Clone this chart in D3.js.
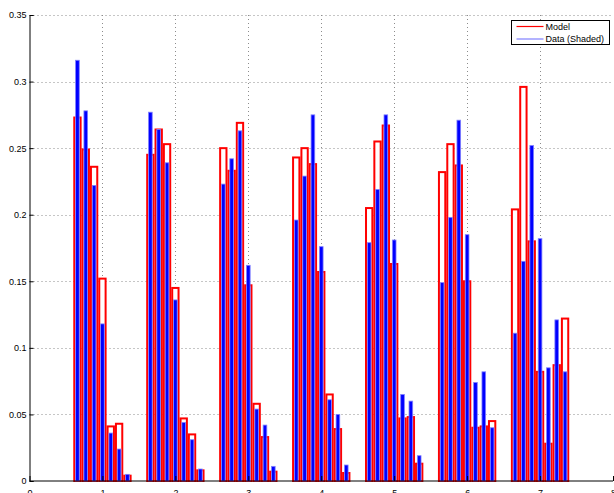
<!DOCTYPE html>
<html>
<head>
<meta charset="utf-8">
<script src="https://cdn.jsdelivr.net/npm/d3@7"></script>
<style>
  body { margin: 0; background: #fff; }
  svg { display: block; font-family: "Liberation Sans", Arial, sans-serif; }
</style>
</head>
<body>
<div id="svg-container"></div>
<script>
const width = 614;
const height = 493;

// group positions on the x axis
const groups = [1, 2, 3, 4, 5, 6, 7];

// model values (red outlined bars), 7 bars per group
const model1 = [0.273, 0.249, 0.236, 0.152, 0.041, 0.043, 0.004];
const model2 = [0.245, 0.264, 0.253, 0.145, 0.047, 0.035, 0.008];
const model3 = [0.250, 0.233, 0.269, 0.147, 0.058, 0.033, 0.007];
const model4 = [0.243, 0.250, 0.238, 0.157, 0.065, 0.039, 0.006];
const model5 = [0.205, 0.255, 0.267, 0.163, 0.047, 0.048, 0.013];
const model6 = [0.232, 0.253, 0.237, 0.150, 0.040, 0.041, 0.045];
const model7 = [0.204, 0.296, 0.180, 0.082, 0.028, 0.087, 0.122];

// data values (blue shaded bars)
const data1 = [0.316, 0.278, 0.222, 0.118, 0.036, 0.024, 0.005];
const data2 = [0.277, 0.264, 0.239, 0.136, 0.044, 0.031, 0.009];
const data3 = [0.223, 0.242, 0.263, 0.162, 0.054, 0.042, 0.011];
const data4 = [0.196, 0.229, 0.275, 0.176, 0.061, 0.050, 0.012];
const data5 = [0.179, 0.219, 0.275, 0.181, 0.065, 0.060, 0.019];
const data6 = [0.149, 0.198, 0.271, 0.185, 0.074, 0.082, 0.040];
const data7 = [0.111, 0.165, 0.252, 0.182, 0.085, 0.121, 0.082];

const modelSeries = [model1, model2, model3, model4, model5, model6, model7];
const dataSeries = [data1, data2, data3, data4, data5, data6, data7];

const xTicks = [0, 1, 2, 3, 4, 5, 6, 7, 8];
const yTicks = [0, 0.05, 0.1, 0.15, 0.2, 0.25, 0.3, 0.35];
const legendLabels = ["Model", "Data (Shaded)"];

const xScale = d3.scaleLinear().domain([0, 8]).range([29.5, 613]);
const yScale = d3.scaleLinear().domain([0, 0.35]).range([481, 15]);

// 7 bars share 0.8 of a unit in each group
const slot = 0.8 / 7;
const slotPx = xScale(slot) - xScale(0);

function flatten(series) {
  const out = [];
  series.forEach((vals, g) => {
    vals.forEach((v, i) => {
      out.push({ x: groups[g] + (i - 3) * slot, v: v });
    });
  });
  return out;
}

const svg = d3
  .select("#svg-container")
  .append("svg")
  .attr("width", width)
  .attr("height", height);

// dotted grid
svg
  .append("g")
  .selectAll("line")
  .data(yTicks.filter((d) => d > 0))
  .enter()
  .append("line")
  .attr("x1", xScale(0))
  .attr("x2", 612)
  .attr("y1", (d) => Math.round(yScale(d)) + 0.5)
  .attr("y2", (d) => Math.round(yScale(d)) + 0.5)
  .attr("stroke", "#8c8c8c")
  .attr("stroke-width", 1)
  .attr("stroke-dasharray", "1,3");

svg
  .append("g")
  .selectAll("line")
  .data(xTicks.filter((d) => d > 0 && d < 8))
  .enter()
  .append("line")
  .attr("x1", (d) => Math.round(xScale(d)) + 0.5)
  .attr("x2", (d) => Math.round(xScale(d)) + 0.5)
  .attr("y1", yScale(0.35))
  .attr("y2", yScale(0))
  .attr("stroke", "#8c8c8c")
  .attr("stroke-width", 1)
  .attr("stroke-dasharray", "1,3");

// model bars - red outline
const redW = slotPx * 0.76;
svg
  .append("g")
  .selectAll("rect")
  .data(flatten(modelSeries))
  .enter()
  .append("rect")
  .attr("x", (d) => xScale(d.x) - redW / 2)
  .attr("width", redW)
  .attr("y", (d) => yScale(d.v))
  .attr("height", (d) => yScale(0) - yScale(d.v))
  .attr("fill", "#fff")
  .attr("stroke", "#ff0000")
  .attr("stroke-width", 2);

// data bars - blue filled
const blueW = slotPx * 0.44;
svg
  .append("g")
  .selectAll("rect")
  .data(flatten(dataSeries))
  .enter()
  .append("rect")
  .attr("x", (d) => xScale(d.x) - blueW / 2)
  .attr("width", blueW)
  .attr("y", (d) => yScale(d.v))
  .attr("height", (d) => yScale(0) - yScale(d.v))
  .attr("fill", "#0000ff")
  .attr("stroke", "#8080ff")
  .attr("stroke-width", 0.8);

// axes, matlab style with ticks inside
const xAxis = d3
  .axisBottom(xScale)
  .tickValues(xTicks)
  .tickSize(-5)
  .tickPadding(9)
  .tickFormat(d3.format("d"));

svg
  .append("g")
  .attr("transform", `translate(0, ${yScale(0)})`)
  .call(xAxis)
  .call((g) => g.select(".domain").attr("stroke", "#000").attr("d", `M${xScale(0)},0H613`))
  .call((g) => g.selectAll("text").attr("font-size", 9).attr("fill", "#000"));

const yAxis = d3
  .axisLeft(yScale)
  .tickValues(yTicks)
  .tickSize(-4)
  .tickPadding(3)
  .tickFormat((d) => (d === 0 ? "0" : d3.format("")(+d.toFixed(2))));

svg
  .append("g")
  .attr("transform", `translate(${xScale(0)}, 0)`)
  .call(yAxis)
  .call((g) => g.select(".domain").attr("stroke", "#000"))
  .call((g) => g.selectAll("text").attr("font-size", 9).attr("fill", "#000"));

// legend
const legend = svg.append("g").attr("transform", "translate(511.5, 20.5)");

legend
  .append("rect")
  .attr("width", 98)
  .attr("height", 24)
  .attr("fill", "#fff")
  .attr("stroke", "#000")
  .attr("stroke-width", 1);

const legendColors = ["#ff0000", "#8080ff"];
legendLabels.forEach((label, i) => {
  const y = 6 + i * 12.5;
  legend
    .append("line")
    .attr("x1", 5)
    .attr("x2", 32)
    .attr("y1", y)
    .attr("y2", y)
    .attr("stroke", legendColors[i])
    .attr("stroke-width", 1.2);
  legend
    .append("text")
    .attr("x", 34)
    .attr("y", y)
    .attr("dy", "0.35em")
    .attr("font-size", 9)
    .text(label);
});
</script>
</body>
</html>
